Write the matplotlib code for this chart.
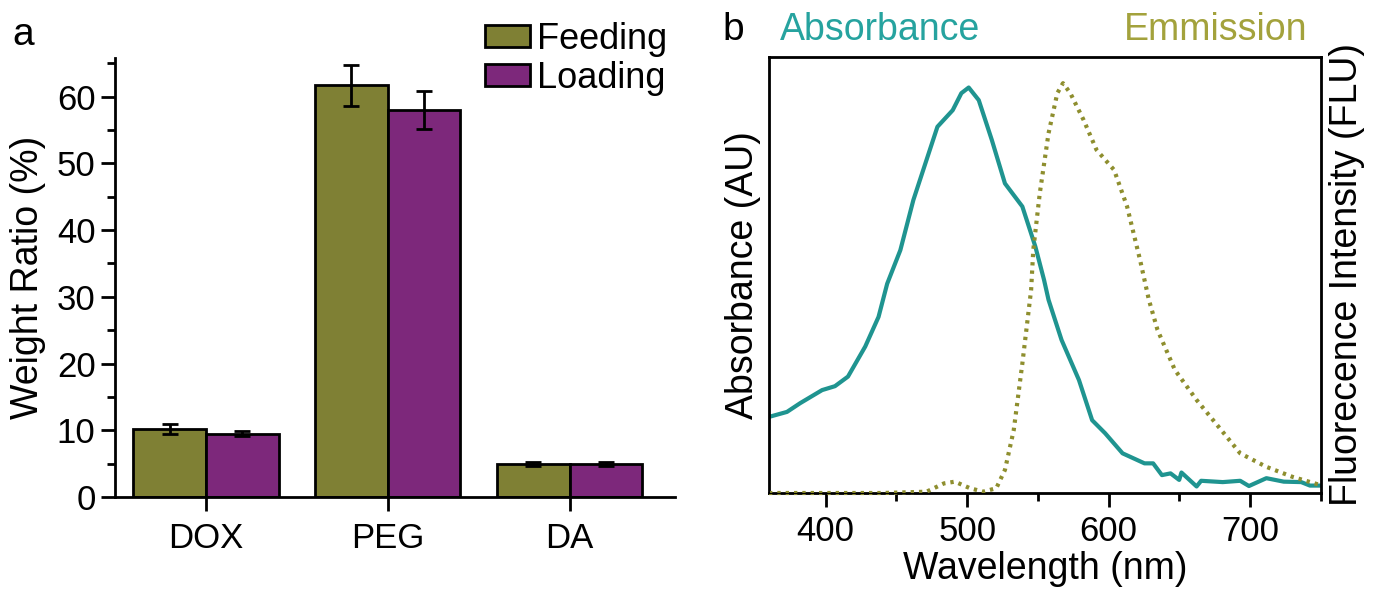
import matplotlib
matplotlib.use('Agg')
import matplotlib.pyplot as plt
from matplotlib.ticker import MultipleLocator
import numpy as np

plt.rcParams['font.family'] = ['Liberation Sans', 'DejaVu Sans']

# panel a data
categories = ['DOX', 'PEG', 'DA']
feeding = [10.2, 61.7, 5.0]
feeding_err = [0.7, 3.1, 0.3]
loading = [9.5, 58.0, 4.9]
loading_err = [0.4, 2.9, 0.3]

# panel b data (normalised to axis height)
abs_wl = [360.5, 372.7, 382, 397.5, 406.6, 415.8, 428, 437.4, 443.5, 452.8, 462, 471.3,
          479, 489.8, 495.9, 501.1, 508.2, 517.4, 526.7, 539, 548.2, 554.3, 557.5, 566.7,
          579, 588.3, 597.5, 609.8, 625.3, 631.4, 637.6, 643.7, 649.8, 651.4, 662.1, 665.3,
          680.6, 692.9, 699.1, 711.4, 723.7, 736, 742.2, 749.8]
abs_val = [0.175, 0.186, 0.206, 0.236, 0.245, 0.267, 0.336, 0.404, 0.480, 0.557, 0.672, 0.764,
           0.840, 0.878, 0.917, 0.930, 0.901, 0.810, 0.710, 0.657, 0.565, 0.489, 0.443, 0.351,
           0.259, 0.167, 0.137, 0.091, 0.068, 0.068, 0.041, 0.045, 0.030, 0.047, 0.015, 0.028,
           0.025, 0.028, 0.016, 0.034, 0.026, 0.025, 0.017, 0.017]
em_wl = [360, 400, 440, 471.3, 483.6, 491.3, 502, 511.3, 520.6, 526.7, 532.9, 539, 545.2,
         546.7, 551.3, 557.5, 563.7, 567.7, 572.9, 582.2, 591.4, 603.8, 613, 622.2, 628.4,
         634.5, 646.8, 662.2, 677.6, 692.9, 711.4, 729.9, 749.8]
em_val = [0.0, 0.0, 0.0, 0.003, 0.022, 0.026, 0.011, 0.003, 0.011, 0.053, 0.144, 0.297, 0.466,
          0.557, 0.687, 0.825, 0.917, 0.940, 0.917, 0.856, 0.787, 0.741, 0.657, 0.534, 0.443,
          0.374, 0.282, 0.213, 0.152, 0.091, 0.060, 0.037, 0.018]

c_feed = '#7f8034'
c_load = '#7d287b'
c_abs = '#1f9490'
c_em = '#8e8e2e'

fig = plt.figure(figsize=(13.73, 5.89), dpi=100)

# ---- panel a ----
ax = fig.add_axes([115 / 1373, 1 - 497 / 589, 560 / 1373, 439 / 589])
x = np.arange(len(categories))
w = 0.4
ekw = dict(elinewidth=2, capthick=2)
ax.bar(x - w / 2, feeding, w, yerr=feeding_err, color=c_feed, edgecolor='black',
       linewidth=2, capsize=6, error_kw=ekw, label='Feeding')
ax.bar(x + w / 2, loading, w, yerr=loading_err, color=c_load, edgecolor='black',
       linewidth=2, capsize=6, error_kw=ekw, label='Loading')
ax.set_xlim(-0.5, 2.58)
ax.set_ylim(0, 65.8)
ax.set_xticks(x)
ax.set_xticklabels(categories, fontsize=25)
ax.yaxis.set_major_locator(MultipleLocator(10))
ax.yaxis.set_minor_locator(MultipleLocator(5))
ax.tick_params(axis='y', labelsize=25, width=2, length=10, pad=4)
ax.tick_params(axis='y', which='minor', width=2, length=6)
ax.tick_params(axis='x', width=2, length=10, pad=8)
ax.set_ylabel('Weight Ratio (%)', fontsize=27, labelpad=8)
for s in ['top', 'right']:
    ax.spines[s].set_visible(False)
for s in ['left', 'bottom']:
    ax.spines[s].set_linewidth(2)
ax.legend(loc='upper left', bbox_to_anchor=(485 / 1373, 1 - 22 / 589),
          bbox_transform=fig.transFigure, frameon=False, fontsize=26,
          handlelength=1.25, handleheight=0.55, handletextpad=0.2,
          labelspacing=0.1, borderpad=0, borderaxespad=0)
fig.text(12 / 1373, 1 - 45 / 589, 'a', fontsize=28)

# ---- panel b ----
bx = fig.add_axes([769 / 1373, 1 - 493 / 589, 552 / 1373, 436 / 589])
bx.plot(abs_wl, abs_val, color=c_abs, linewidth=3)
bx.set_xlim(360, 750)
bx.set_ylim(0, 1)
bx.set_yticks([])
bx.xaxis.set_major_locator(MultipleLocator(100))
bx.xaxis.set_minor_locator(MultipleLocator(50))
bx.tick_params(axis='x', labelsize=25, width=2, length=10, pad=6)
bx.tick_params(axis='x', which='minor', width=2, length=6)
bx.set_xlabel('Wavelength (nm)', fontsize=27, labelpad=2)
bx.set_ylabel('Absorbance (AU)', fontsize=27, labelpad=6)
for s in bx.spines.values():
    s.set_linewidth(2)

bx2 = bx.twinx()
bx2.plot(em_wl, em_val, color=c_em, linewidth=3, linestyle=(0, (0.8, 1.2)),
         clip_on=False)
bx2.set_ylim(0, 1)
bx2.set_yticks([])
bx2.set_ylabel('Fluorecence Intensity (FLU)', fontsize=27, labelpad=6)

fig.text(722 / 1373, 1 - 40 / 589, 'b', fontsize=28)
fig.text(780 / 1373, 1 - 40 / 589, 'Absorbance', fontsize=27, color='#26a39f')
fig.text(1307 / 1373, 1 - 40 / 589, 'Emmission', fontsize=27, color='#a3a23c', ha='right')

fig.savefig('out.png', dpi=100)
